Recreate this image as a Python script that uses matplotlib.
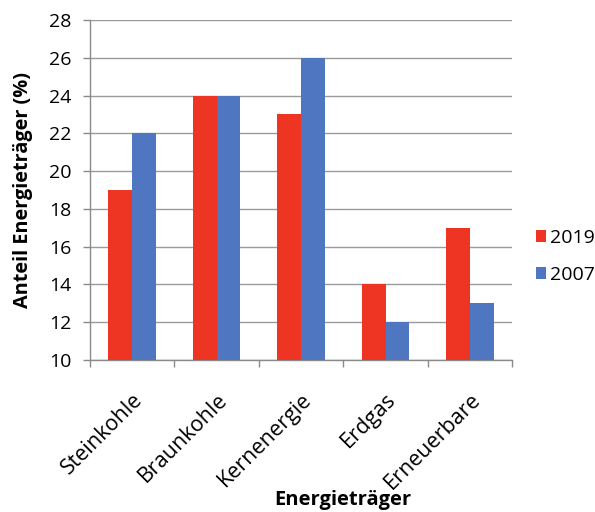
import matplotlib
matplotlib.use("Agg")
import matplotlib.pyplot as plt
import numpy as np

categories = ["Steinkohle", "Braunkohle", "Kernenergie", "Erdgas", "Erneuerbare"]
values_2019 = [19, 24, 23, 14, 17]
values_2007 = [22, 24, 26, 12, 13]
yticks = [10, 12, 14, 16, 18, 20, 22, 24, 26, 28]

plt.rcParams['font.family'] = ['Open Sans', 'DejaVu Sans']

fig = plt.figure(figsize=(5.95, 5.12), dpi=100)
ax = fig.add_axes([0.151, 0.297, 0.710, 0.664])

x = np.arange(len(categories))
w = 0.28
red = "#ee3524"
blue = "#4f76c1"
ax.bar(x - w/2, values_2019, w, color=red, label="2019", zorder=3)
ax.bar(x + w/2, values_2007, w, color=blue, label="2007", zorder=3)

ax.set_ylim(10, 28)
ax.set_xlim(-0.5, len(categories) - 0.5)
ax.set_yticks(yticks)
ax.yaxis.grid(True, color="#9a9a9a", linewidth=1.0, zorder=0)
ax.set_axisbelow(True)

ax.set_xticks(x)
ax.set_xticklabels(categories, rotation=45, ha="right", rotation_mode="anchor", fontsize=15.5)
ax.tick_params(axis="x", length=0, pad=21)
ax.set_xticks(np.arange(-0.5, len(categories)), minor=True)
ax.tick_params(axis="x", which="minor", length=5, color="#8a8a8a", width=1)
ax.tick_params(axis="y", length=5, color="#8a8a8a", width=1, labelsize=14, pad=8)

for s in ["top", "right"]:
    ax.spines[s].set_visible(False)
for s in ["left", "bottom"]:
    ax.spines[s].set_color("#8a8a8a")
    ax.spines[s].set_linewidth(1)

ax.set_ylabel("Anteil Energieträger (%)", fontsize=14.3, fontweight="bold")
ax.yaxis.set_label_coords(-0.135, 0.5)
fig.text(343/595, 1 - 505/512, "Energieträger", fontsize=14.5, fontweight="bold",
         ha="center", va="baseline")

ax.legend(loc="center left", bbox_to_anchor=(1.055, 0.305), frameon=False,
          fontsize=14, handlelength=0.55, handleheight=0.55, handletextpad=0.2,
          labelspacing=1.0, borderpad=0, borderaxespad=0)

fig.savefig("out.png", dpi=100)
